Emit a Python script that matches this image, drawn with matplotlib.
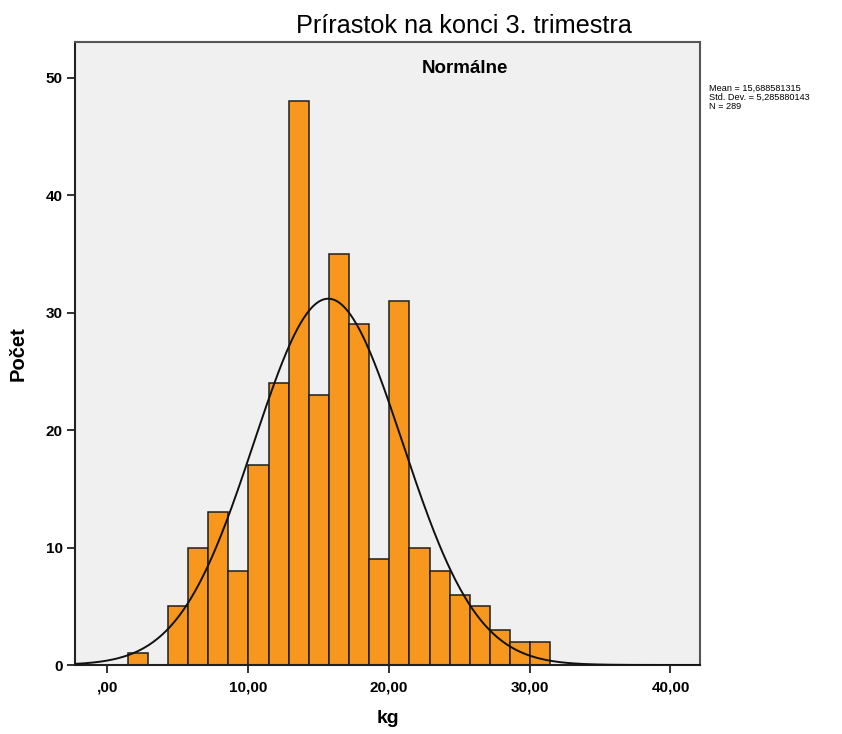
import numpy as np
import matplotlib
matplotlib.use("Agg")
import matplotlib.pyplot as plt
from matplotlib.ticker import FuncFormatter

plt.rcParams['font.family'] = ['Liberation Sans', 'DejaVu Sans']

# Histogram of weight gain (kg); bins of equal width
bin_start = 1.44
bin_width = 1.43
counts = [1, 0, 5, 10, 13, 8, 17, 24, 48, 23, 35, 29, 9, 31, 10, 8, 6, 5, 3, 2, 2]
mean = 15.688581315
std_dev = 5.285880143
n_total = 289

title = "Prírastok na konci 3. trimestra"
panel_label = "Normálne"
x_label = "kg"
y_label = "Počet"
x_ticks = [0, 10, 20, 30, 40]
y_ticks = [0, 10, 20, 30, 40, 50]

edges = bin_start + bin_width * np.arange(len(counts) + 1)

fig = plt.figure(figsize=(8.42, 7.34), dpi=100)
ax = fig.add_axes([0.0891, 0.094, 0.7423, 0.8488])
ax.set_facecolor('#f0f0f0')

for left, c in zip(edges[:-1], counts):
    if c > 0:
        ax.bar(left, c, width=bin_width, align='edge', color='#f7971e',
               edgecolor='#1e1e1e', linewidth=1.1, zorder=2)

xs = np.linspace(-2.3, 42.1, 600)
pdf = np.exp(-0.5 * ((xs - mean) / std_dev) ** 2) / (std_dev * np.sqrt(2 * np.pi))
ax.plot(xs, pdf * n_total * bin_width, color='#111111', lw=1.4, zorder=3)


def comma_fmt(v, pos):
    s = ("%.2f" % v).replace('.', ',')
    return s[1:] if s.startswith('0,') else s


ax.set_xlim(-2.3, 42.1)
ax.set_ylim(0, 53.05)
ax.set_xticks(x_ticks)
ax.set_yticks(y_ticks)
ax.xaxis.set_major_formatter(FuncFormatter(comma_fmt))
ax.tick_params(axis='both', direction='out', length=6, width=1.3, color='#222222',
               labelsize=11, pad=3)
ax.tick_params(axis='x', pad=5)
for lab in ax.get_xticklabels() + ax.get_yticklabels():
    lab.set_fontweight('bold')

for s in ax.spines.values():
    s.set_color('#555555')
    s.set_linewidth(1.5)
ax.spines['bottom'].set_color('#222222')
ax.spines['left'].set_color('#222222')

ax.set_xlabel(x_label, fontsize=14, fontweight='bold', labelpad=11)
ax.set_ylabel(y_label, fontsize=14.5, fontweight='bold', labelpad=13)
fig.text(0.551, 0.965, title, ha='center', va='center', fontsize=18.2)
fig.text(0.552, 0.907, panel_label, ha='center', va='center',
         fontsize=13.5, fontweight='bold')

stats = "Mean = 15,688581315\nStd. Dev. = 5,285880143\nN = 289"
fig.text(0.8415, 0.886, stats, ha='left', va='top', fontsize=6.6, linespacing=1.05)

fig.savefig('out.png', dpi=100)
